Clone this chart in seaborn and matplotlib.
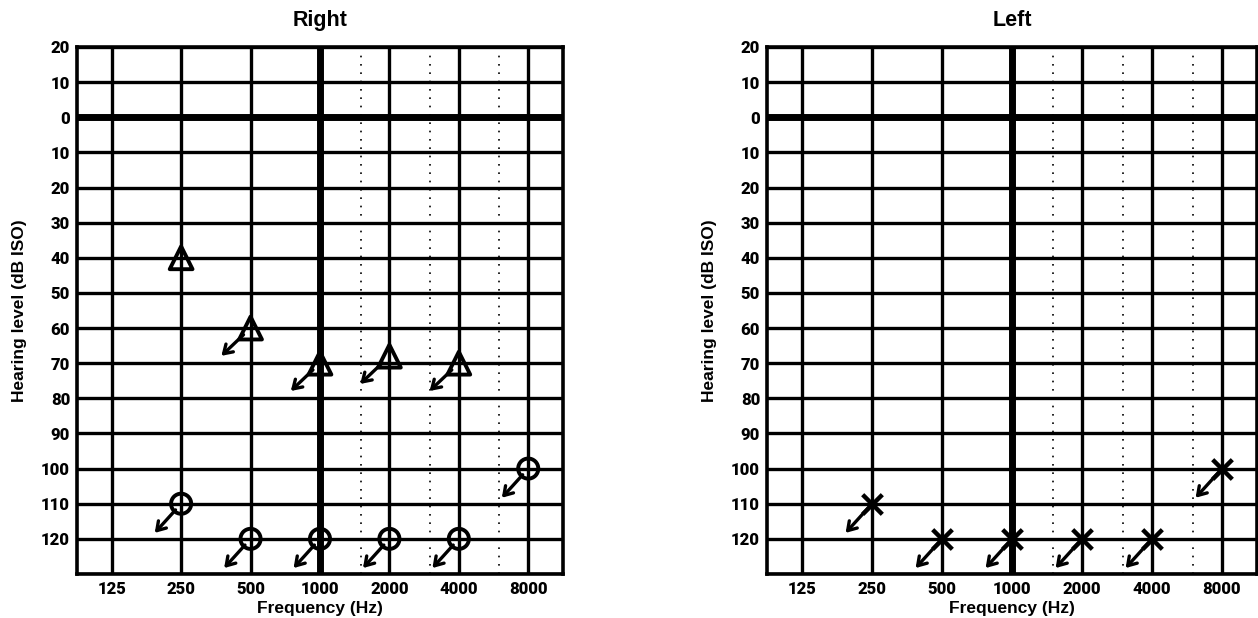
import matplotlib
matplotlib.use('Agg')
import matplotlib.pyplot as plt
import seaborn as sns
import pandas as pd
import numpy as np

# data
octave_freqs = [125, 250, 500, 1000, 2000, 4000, 8000]
half_octave_freqs = [1500, 3000, 6000]
levels_grid = list(range(-20, 131, 10))
ytick_levels = list(range(-20, 121, 10))

# right ear: masked air conduction (triangles)
right_tri_freq = [250, 500, 1000, 2000, 4000]
right_tri_level = [40, 60, 70, 68, 70]
right_tri_noresp = [False, True, True, True, True]

# right ear: circles (no response)
right_circ_freq = [250, 500, 1000, 2000, 4000, 8000]
right_circ_level = [110, 120, 120, 120, 120, 100]

# left ear: crosses (no response)
left_x_freq = [250, 500, 1000, 2000, 4000, 8000]
left_x_level = [110, 120, 120, 120, 120, 100]

sns.set_theme(style='white')
plt.rcParams['font.family'] = ['Liberation Sans', 'DejaVu Sans']
plt.rcParams['text.color'] = 'black'
plt.rcParams['axes.labelcolor'] = 'black'
plt.rcParams['xtick.color'] = 'black'
plt.rcParams['ytick.color'] = 'black'

fig = plt.figure(figsize=(12.58, 6.18), dpi=100)
ax_r = fig.add_axes([0.0612, 0.0712, 0.3863, 0.8528])
ax_l = fig.add_axes([0.6097, 0.0712, 0.3895, 0.8528])


def setup(ax, title):
    ax.set_xscale('log', base=2)
    ax.set_xlim(125 * 2 ** -0.5, 8000 * 2 ** 0.5)
    ax.set_ylim(130, -20)
    ax.set_xticks(octave_freqs)
    ax.set_xticklabels([str(f) for f in octave_freqs])
    ax.xaxis.set_minor_locator(matplotlib.ticker.NullLocator())
    ax.set_yticks(ytick_levels)
    ax.set_yticklabels([str(abs(v)) for v in ytick_levels])
    ax.tick_params(length=0, pad=5, colors='black')
    for lab in ax.get_xticklabels() + ax.get_yticklabels():
        lab.set_family(['Roboto', 'DejaVu Sans'])
        lab.set_weight('black')
        lab.set_fontsize(12)
        lab.set_color('black')
    for f in octave_freqs:
        ax.axvline(f, color='black', lw=5 if f == 1000 else 2.4, zorder=1)
    for f in half_octave_freqs:
        ax.axvline(f, color='black', lw=1.2, ls=(0, (1, 4)), zorder=1)
    for lv in levels_grid:
        ax.axhline(lv, color='black', lw=5 if lv == 0 else 2.4, zorder=1)
    for s in ax.spines.values():
        s.set_color('black')
        s.set_linewidth(2.6)
    ax.set_title(title, fontsize=15.5, fontweight='bold', pad=15, color='black')


def arrow(ax, f, lv, dx, dy, shrink):
    ax.annotate('', xy=(f, lv), xytext=(dx, dy), textcoords='offset points',
                arrowprops=dict(arrowstyle='<-,head_length=0.5,head_width=0.32',
                                color='black', lw=2.4, shrinkA=0, shrinkB=shrink),
                zorder=4)


setup(ax_r, 'Right')
setup(ax_l, 'Left')

tri = pd.DataFrame({'freq': right_tri_freq, 'level': right_tri_level})
circ = pd.DataFrame({'freq': right_circ_freq, 'level': right_circ_level})
cross = pd.DataFrame({'freq': left_x_freq, 'level': left_x_level})

sns.scatterplot(data=tri, x='freq', y='level', ax=ax_r, marker='^', s=270,
                facecolors='none', edgecolors='black', linewidth=2.8, zorder=3)
sns.scatterplot(data=circ, x='freq', y='level', ax=ax_r, marker='o', s=210,
                facecolors='none', edgecolors='black', linewidth=2.8, zorder=3)
sns.scatterplot(data=cross, x='freq', y='level', ax=ax_l, marker='x', s=200,
                color='black', linewidth=3.2, zorder=3)

for f, lv, nr in zip(right_tri_freq, right_tri_level, right_tri_noresp):
    if nr:
        arrow(ax_r, f, lv, -21, -20, 7)
for f, lv in zip(right_circ_freq, right_circ_level):
    arrow(ax_r, f, lv, -19, -21, 6)
for f, lv in zip(left_x_freq, left_x_level):
    arrow(ax_l, f, lv, -19, -21, 2)

for ax in (ax_r, ax_l):
    ax.set_xlabel('Frequency (Hz)', fontsize=12.5, fontweight='bold', labelpad=3, color='black')
    ax.set_ylabel('Hearing level (dB ISO)', fontsize=12.5, fontweight='bold', labelpad=10,
                  color='black')

fig.savefig('out.png', dpi=100)
